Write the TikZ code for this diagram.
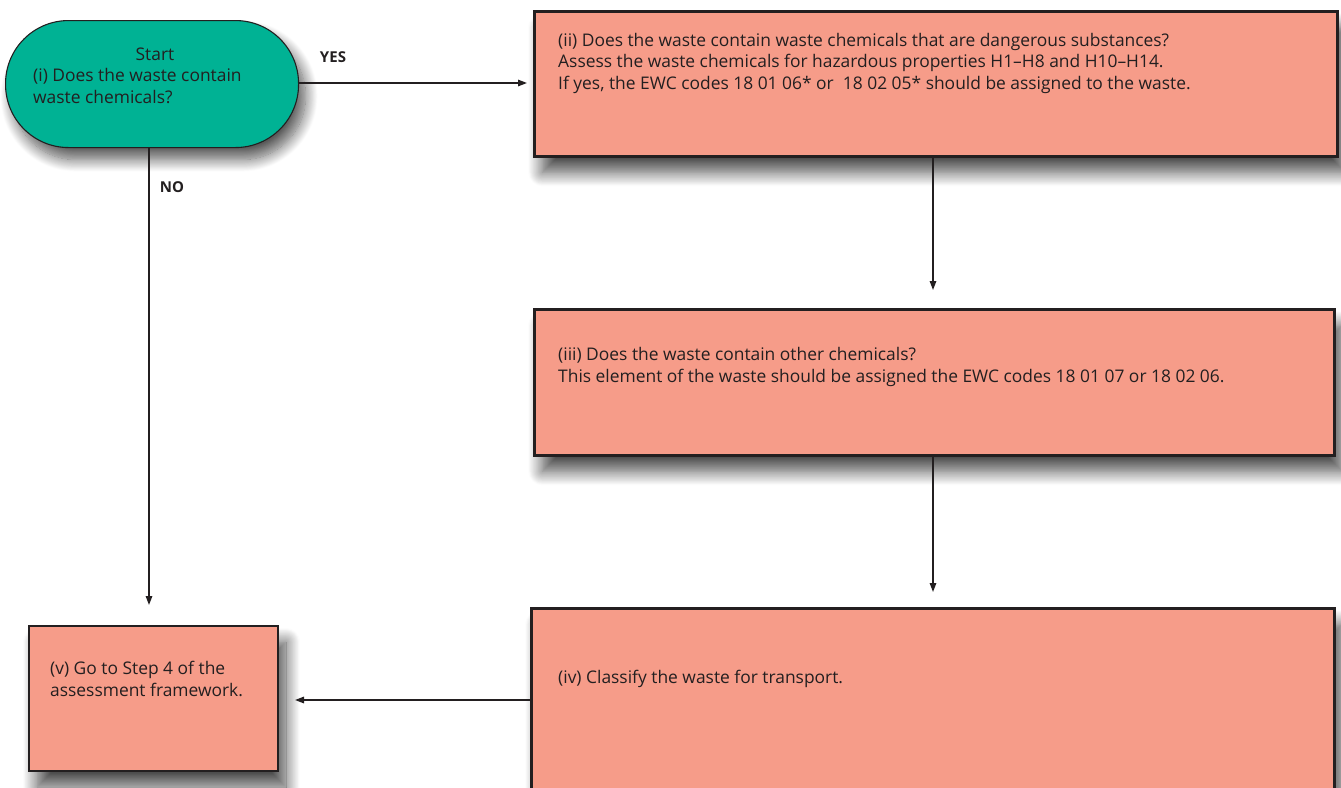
\documentclass[tikz,border=0pt]{standalone}
\usepackage{fontspec}
\setmainfont{Open Sans}
\usetikzlibrary{arrows.meta,shadows.blur,positioning}
\definecolor{salmon}{RGB}{246,156,137}
\definecolor{teal}{RGB}{0,178,148}
\definecolor{edge}{RGB}{35,31,32}
\tikzset{
  procbox/.style={draw=edge, line width=2.6pt, fill=salmon, minimum width=#1, inner sep=0pt,
    blur shadow={shadow xshift=8pt, shadow yshift=-16pt, shadow blur radius=14pt, shadow blur steps=16, shadow opacity=70}},
  startbox/.style={draw=edge, line width=1.1pt, fill=teal, rounded corners=63pt, inner sep=0pt,
    minimum width=293pt, minimum height=127pt,
    blur shadow={shadow xshift=7pt, shadow yshift=-12pt, shadow blur radius=12pt, shadow blur steps=16, shadow opacity=65}},
  txt/.style={align=left, inner sep=0pt, font=\fontsize{17.4}{21.5}\selectfont, text=edge},
  lbl/.style={inner sep=0pt, font=\fontsize{15}{17}\selectfont\bfseries, text=edge},
  conn/.style={draw=edge, line width=1.4pt, -{Triangle[length=9pt,width=6.5pt]}},
}
\begin{document}
\begin{tikzpicture}[x=1pt,y=-1pt]
\useasboundingbox (0,0) rectangle (1341,787);
% boxes
\node[startbox, anchor=north west] (start) at (5,20) {};
\node[procbox=803pt, minimum height=145pt, anchor=north west] (b2) at (533,10) {};
\node[procbox=800pt, minimum height=146pt, anchor=north west] (b3) at (533,308) {};
\node[procbox=803pt, minimum height=200pt, anchor=north west] (b4) at (530,607) {};
\node[procbox=249pt, minimum height=145pt, line width=2pt, anchor=north west] (b5) at (28,625) {};
% texts (anchor base = baseline of the last line)
\node[txt, anchor=base] (tstart0) at (155,60) {Start};
\node[txt, anchor=base west] (tstart) at (33,103) {(i) Does the waste contain\\waste chemicals?};
\node[txt, anchor=base west] (t2) at (558,89) {(ii) Does the waste contain waste chemicals that are dangerous substances?\\Assess the waste chemicals for hazardous properties H1--H8 and H10--H14.\\If yes, the EWC codes 18 01 06* or~ 18 02 05* should be assigned to the waste.};
\node[txt, anchor=base west] (t3) at (558,382) {(iii) Does the waste contain other chemicals?\\This element of the waste should be assigned the EWC codes 18 01 07 or 18 02 06.};
\node[txt, anchor=base west] (t4) at (558,683) {(iv) Classify the waste for transport.};
\node[txt, anchor=base west] (t5) at (50,696) {(v) Go to Step 4 of the\\assessment framework.};
% connectors
\coordinate (s2) at (start.east |- 0,83);
\draw[conn, shorten >=6pt] (s2) -- (b2.west |- s2);
\coordinate (cx) at (933,0);
\draw[conn, shorten >=18pt] (b2.south -| cx) -- (b3.north -| cx);
\draw[conn, shorten >=15pt] (b3.south -| cx) -- (b4.north -| cx);
\coordinate (s5) at (149,0);
\draw[conn, shorten >=20pt] (start.south -| s5) -- (b5.north -| s5);
\coordinate (y4) at (0,700);
\draw[conn, shorten >=16pt] (b4.west |- y4) -- (b5.east |- y4);
% labels
\node[lbl] (yes) at (333,57) {YES};
\node[lbl] (no) at (172,187) {NO};
\end{tikzpicture}
\end{document}
